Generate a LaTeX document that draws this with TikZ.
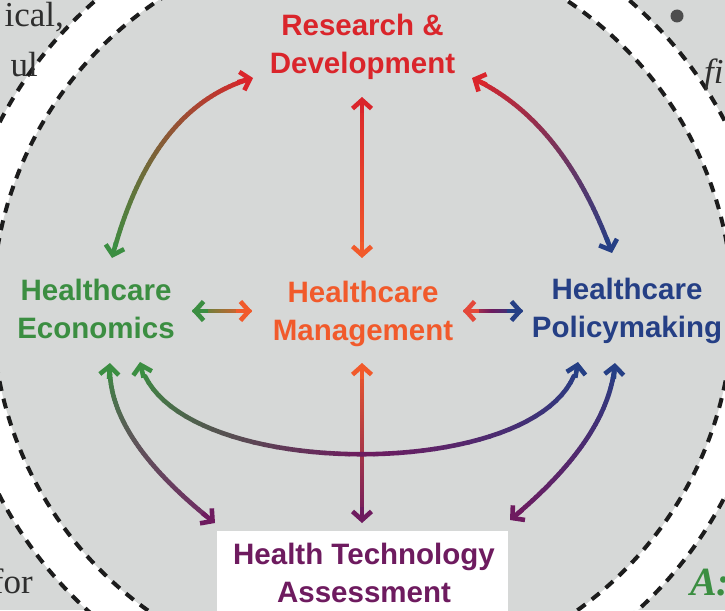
\documentclass[tikz,border=0pt]{standalone}
\usepackage{fontspec}
\newfontfamily\labfont{Liberation Sans}
\newfontfamily\sidefont{Liberation Serif}
\usetikzlibrary{calc,arrows.meta}
\definecolor{bggray}{HTML}{D6D8D7}
\definecolor{dashcol}{HTML}{1C1C1C}
\definecolor{rdred}{HTML}{DA252B}
\definecolor{mgorange}{HTML}{F15A2B}
\definecolor{ecgreen}{HTML}{3B8E41}
\definecolor{poblue}{HTML}{253F85}
\definecolor{htpurple}{HTML}{6E1B5F}
\definecolor{sidegray}{HTML}{2E2E2E}
\definecolor{mgred}{HTML}{E4483A}
\newcommand\bezpt[6]{%
  \path ($(#1)!#5!(#2)$) coordinate (bz01) ($(#2)!#5!(#3)$) coordinate (bz12) ($(#3)!#5!(#4)$) coordinate (bz23);
  \path ($(bz01)!#5!(bz12)$) coordinate (bzq0) ($(bz12)!#5!(bz23)$) coordinate (bzq1);
  \path ($(bzq0)!#5!(bzq1)$) coordinate (#6);
}
\newcommand\gradarrow[7]{%
  \foreach \i in {2,...,47}{%
    \pgfmathsetmacro\ta{\i/50}%
    \pgfmathsetmacro\tb{(\i+1)/50}%
    \pgfmathsetmacro\tm{(\i+0.5)/50}%
    \bezpt{#1}{#2}{#3}{#4}{\ta}{ga}%
    \bezpt{#1}{#2}{#3}{#4}{\tb}{gb}%
    \ifdim\tm pt<0.5pt
      \pgfmathtruncatemacro\pc{200*\tm}\colorlet{segc}{#6!\pc!#5}%
    \else
      \pgfmathtruncatemacro\pc{200*(\tm-0.5)}\colorlet{segc}{#7!\pc!#6}%
    \fi
    \draw[shaft, segc] (ga) -- (gb);
  }
  \draw[tip, #5] ($(#1)!16pt!(#2)$) -- (#1);
  \draw[tip, #7] ($(#4)!16pt!(#3)$) -- (#4);
}
\tikzset{
  lab/.style={font=\labfont\bfseries\fontsize{29.5}{38}\selectfont, align=center, anchor=base, inner sep=0pt},
  side/.style={font=\sidefont\fontsize{35}{40}\selectfont, text=sidegray, inner sep=0pt},
  shaft/.style={line width=4.6pt, line cap=round},
  tip/.style={line width=4.6pt, -{Straight Barb[length=8.5pt,width=19pt]}},
  ring/.style={draw=dashcol, line width=4pt, dash pattern=on 10pt off 8pt}
}
\begin{document}
\begin{tikzpicture}[x=1pt,y=-1pt]
\useasboundingbox (0,0) rectangle (725,610);
\clip (0,0) rectangle (725,610);
\fill[bggray] (0,0) rectangle (725,610);
\coordinate (cen) at (362.5,309);
\fill[white] (cen) circle[radius=408];
\fill[bggray] (cen) circle[radius=370];
\draw[ring] (cen) circle[radius=370];
\draw[ring] (cen) circle[radius=408];

% surrounding page fragments
\node[side, anchor=base east] (t1) at (64,27) {ical,};
\node[side, anchor=base east] (t2) at (38,77) {ul};
\node[side, anchor=base east] (t3) at (33,593) {for};
\node[side, anchor=base west] (t4) at (704,84) {\itshape fi};
\fill[sidegray!85] (677,16) circle[radius=6.5];
\node[side, anchor=base west, text=ecgreen, font=\sidefont\bfseries\itshape\fontsize{40}{44}\selectfont] (t5) at (690,595) {A:};

% HTA box
\fill[white] (217,531) rectangle (508,620);

% labels
\node[lab, text=rdred] (rd) at (362.5,74) {Research \&\\Development};
\node[lab, text=ecgreen] (ec) at (96,338) {Healthcare\\Economics};
\node[lab, text=mgorange] (mg) at (363,340) {Healthcare\\Management};
\node[lab, text=poblue] (po) at (627,337) {Healthcare\\Policymaking};
\node[lab, text=htpurple] (ht) at (364,602) {Health Technology\\Assessment};

% connector coordinates
\coordinate (er-s) at (112,258); \coordinate (er-a) at (138.3,156.7); \coordinate (er-b) at (185.3,96.7); \coordinate (er-e) at (253,78);
\coordinate (rp-s) at (472,78); \coordinate (rp-a) at (533.3,106.3); \coordinate (rp-b) at (580,164.7); \coordinate (rp-e) at (612,253);
\coordinate (eh-s) at (110,363); \coordinate (eh-a) at (107,412.3); \coordinate (eh-b) at (142,465.7); \coordinate (eh-e) at (215,523);
\coordinate (ph-s) at (615,363); \coordinate (ph-a) at (611.3,413.3); \coordinate (ph-b) at (576.3,465.3); \coordinate (ph-e) at (510,520);
\coordinate (ep-s) at (140,362); \coordinate (ep-a) at (168,485); \coordinate (ep-b) at (557,485); \coordinate (ep-e) at (578,362);
\coordinate (rm-s) at (362,97); \coordinate (rm-e) at (362,258);
\coordinate (em-s) at (192,311); \coordinate (em-e) at (252,311);
\coordinate (mp-s) at (463,311); \coordinate (mp-e) at (523,311);
\coordinate (mh-s) at (362,363); \coordinate (mh-e) at (362,523);
\foreach \n in {rm,em,mp,mh}{
  \coordinate (\n-a) at ($(\n-s)!0.3333!(\n-e)$);
  \coordinate (\n-b) at ($(\n-s)!0.6667!(\n-e)$);
}

\gradarrow{er-s}{er-a}{er-b}{er-e}{ecgreen}{ecgreen!50!rdred}{rdred}
\gradarrow{rp-s}{rp-a}{rp-b}{rp-e}{rdred}{rdred!50!poblue}{poblue}
\gradarrow{rm-s}{rm-a}{rm-b}{rm-e}{rdred}{rdred!50!mgorange}{mgorange}
\gradarrow{em-s}{em-a}{em-b}{em-e}{ecgreen}{ecgreen!50!mgorange}{mgorange}
\gradarrow{mp-s}{mp-a}{mp-b}{mp-e}{mgred}{htpurple}{poblue}
\gradarrow{mh-s}{mh-a}{mh-b}{mh-e}{mgorange}{mgorange!50!htpurple}{htpurple}
\gradarrow{eh-s}{eh-a}{eh-b}{eh-e}{ecgreen}{ecgreen!45!htpurple!85!gray}{htpurple}
\gradarrow{ph-s}{ph-a}{ph-b}{ph-e}{poblue}{poblue!50!htpurple}{htpurple}
\gradarrow{ep-s}{ep-a}{ep-b}{ep-e}{ecgreen}{htpurple}{poblue}
\end{tikzpicture}
\end{document}
